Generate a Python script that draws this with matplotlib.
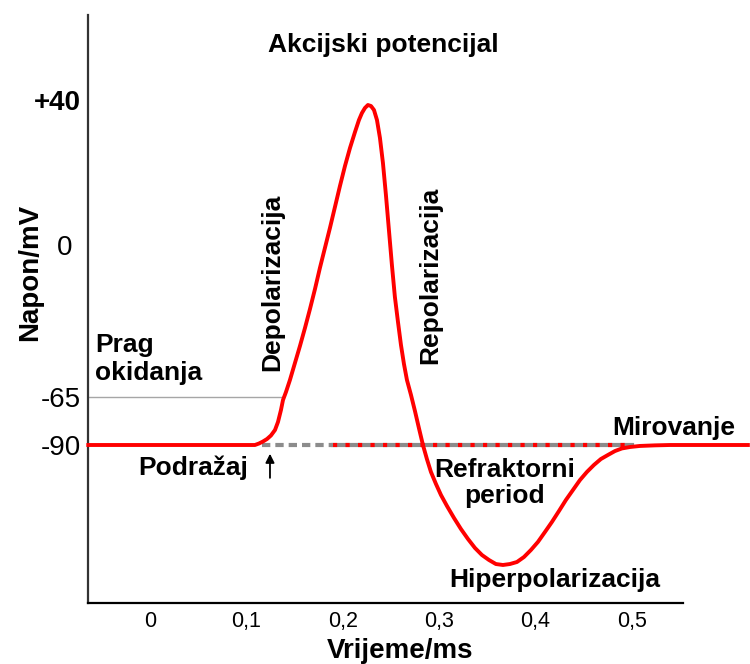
import numpy as np
import matplotlib
matplotlib.use("Agg")
import matplotlib.pyplot as plt

plt.rcParams['font.family'] = ['Liberation Sans', 'DejaVu Sans']

# membrane potential trace (time in ms, potential in mV)
time_ms = [-0.064, 0.1089, 0.1131, 0.1172, 0.1214, 0.1255, 0.1297, 0.1328,
           0.1359, 0.1380, 0.1411, 0.1452, 0.1504, 0.1556, 0.1608, 0.1660,
           0.1712, 0.1763, 0.1815, 0.1867, 0.1919, 0.1971, 0.2023, 0.2075,
           0.2127, 0.2168, 0.2199, 0.2230, 0.2261, 0.2293, 0.2324, 0.2355,
           0.2386, 0.2417, 0.2448, 0.2479, 0.2510, 0.2541, 0.2573, 0.2604,
           0.2635, 0.2666, 0.2708, 0.2749, 0.2790, 0.2832, 0.2873, 0.2915,
           0.2967, 0.3019, 0.3081, 0.3154, 0.3226, 0.3299, 0.3372, 0.3444,
           0.3517, 0.3589, 0.3662, 0.3734, 0.3807, 0.3880, 0.3952, 0.4025,
           0.4098, 0.4170, 0.4243, 0.4315, 0.4388, 0.4461, 0.4533, 0.4606,
           0.4678, 0.4751, 0.4824, 0.4896, 0.4979, 0.5083, 0.5239, 0.5394,
           0.6203]
potential_mv = [-90, -90, -89.22, -88.18, -86.88, -85.05, -82.19, -78.02,
                -71.77, -66.56, -62.86, -57.73, -50.46, -43.19, -35.49, -27.36,
                -18.81, -9.82, -1.27, 4.69, 10.48, 16.28, 21.79, 26.76,
                31.17, 34.48, 36.41, 37.79, 38.62, 38.34, 37.24, 34.48,
                29.52, 22.62, 13.79, 4.14, -8.54, -22.23, -32.92, -42.76,
                -50.89, -57.73, -64.14, -72.29, -81.15, -90, -91.18, -92.27,
                -93.28, -94.21, -95.13, -96.14, -97.07, -97.91, -98.67, -99.26,
                -99.68, -100.02, -100.10, -100.02, -99.85, -99.43, -98.84, -98.16,
                -97.32, -96.48, -95.56, -94.63, -93.79, -92.95, -92.27, -91.68,
                -91.18, -90.84, -90.51, -90.29, -90.17, -90.08, -90.03, -90,
                -90]

rest_mv = -90
threshold_mv = -65
stimulus_ms = 0.1245

ytick_vals = [-90, -65, 0, 40]
ytick_labels = ['-90', '-65', '0', '+40']
xtick_vals = [0, 0.1, 0.2, 0.3, 0.4, 0.5]
xtick_labels = ['0', '0,1', '0,2', '0,3', '0,4', '0,5']

# the drawing is schematic: the voltage axis is not linear
mv_anchor = [-103.3, -90, -65, 0, 40, 70]
pos_anchor = [0, 158, 206, 358, 503, 588]


def fwd(v):
    return np.interp(v, mv_anchor, pos_anchor)


def inv(p):
    return np.interp(p, pos_anchor, mv_anchor)


fig = plt.figure(figsize=(7.5, 6.64), dpi=100)
ax = fig.add_axes([88 / 750, 1 - 603 / 664, (683 - 88) / 750, (603 - 15) / 664])
ax.set_yscale('function', functions=(fwd, inv))
ax.set_xlim(-0.0643, 0.553)
ax.set_ylim(-103.3, 70)

red = '#ff0000'
gray = '#8c8c8c'

# threshold line
ax.plot([-0.0643, 0.138], [threshold_mv, threshold_mv], color='#a6a6a6', lw=1.0)

# resting level continued after the stimulus
ax.plot([0.116, 0.19], [rest_mv, rest_mv], color=gray, lw=3,
        linestyle=(0, (2, 1.2)), solid_capstyle='butt')
ax.plot([0.19, 0.50], [rest_mv, rest_mv], color=gray, lw=3)
ax.plot([0.19, 0.50], [rest_mv, rest_mv], color=red, lw=3,
        linestyle=(0, (1, 2)))

ax.plot(time_ms, potential_mv, color=red, lw=2.8, clip_on=False,
        solid_joinstyle='round', zorder=5)

# stimulus arrow
ax.annotate('', xy=(stimulus_ms, -90.5), xytext=(stimulus_ms, -93.0),
            arrowprops=dict(arrowstyle='-|>', color='black', lw=1.3,
                            mutation_scale=13))

for s in ['top', 'right']:
    ax.spines[s].set_visible(False)
ax.spines['left'].set_color('#333333')
ax.spines['left'].set_linewidth(1.6)
ax.spines['bottom'].set_color('black')
ax.spines['bottom'].set_linewidth(1.6)

# the "0" sits a little further left in the original, so it is drawn apart
ax.set_yticks(ytick_vals)
ax.set_yticklabels([lab if lab != '0' else '' for lab in ytick_labels],
                   fontsize=20)
ax.get_yticklabels()[3].set_fontweight('bold')
ax.annotate('0', xy=(0, 0), xycoords=('axes fraction', 'data'),
            xytext=(-11, 0), textcoords='offset points', ha='right',
            va='center_baseline', fontsize=20)
ax.set_xticks(xtick_vals)
ax.set_xticklabels(xtick_labels, fontsize=15.5)
ax.tick_params(axis='y', length=0, pad=5)
ax.tick_params(axis='x', length=0, pad=6)
ax.minorticks_off()

bold = dict(fontsize=19, fontweight='bold')
fig.text(30 / 750, 1 - 272 / 664, 'Napon/mV', rotation=90, ha='center',
         va='center', fontsize=20, fontweight='bold')
fig.text(400 / 750, 1 - 651 / 664, 'Vrijeme/ms', ha='center', va='center',
         fontsize=20, fontweight='bold')

ax.text(0.242, 59.4, 'Akcijski potencijal', ha='center', va='center', **bold)
ax.text(-0.057, -48.7, 'Prag\nokidanja', ha='left', va='center',
        linespacing=1.2, **bold)
ax.text(0.0446, -91.94, 'Podražaj', ha='center', va='center', **bold)
ax.text(0.1266, -15.8, 'Depolarizacija', rotation=90, ha='center',
        va='center', **bold)
ax.text(0.2905, -12.8, 'Repolarizacija', rotation=90, ha='center',
        va='center', **bold)
ax.text(0.368, -93.2, 'Refraktorni\nperiod', ha='center', va='center',
        linespacing=1.15, **bold)
ax.text(0.543, -81.1, 'Mirovanje', ha='center', va='center', **bold)
ax.text(0.420, -101.4, 'Hiperpolarizacija', ha='center', va='center', **bold)

fig.savefig('out.png', dpi=100)
